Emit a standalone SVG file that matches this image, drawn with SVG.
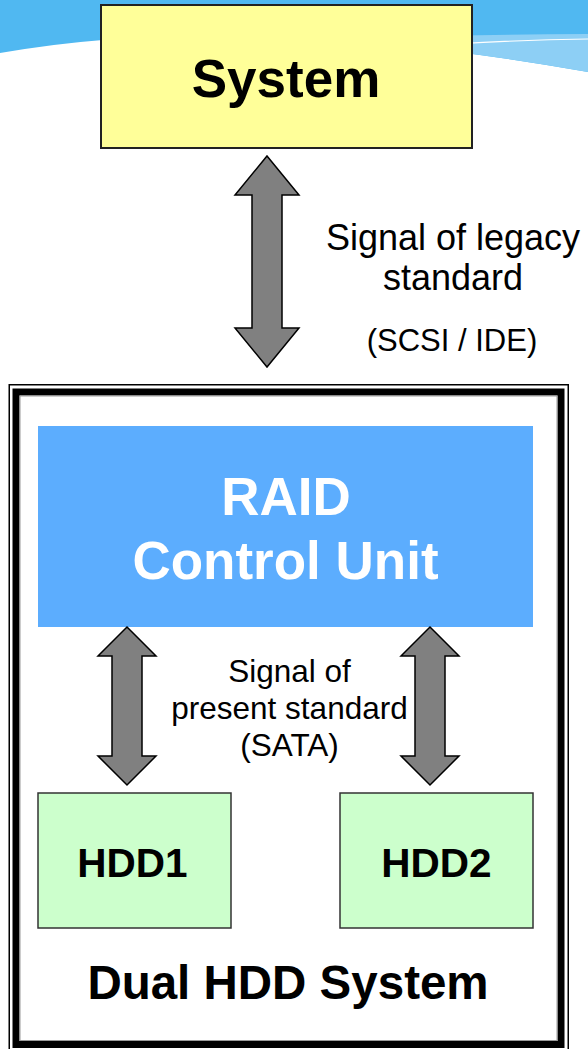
<svg xmlns="http://www.w3.org/2000/svg" width="588" height="1049" viewBox="0 0 588 1049">
  <style>
    .bold { font-family: "Liberation Sans", Arial, sans-serif; font-weight: bold; text-anchor: middle; }
    .label { font-family: "Liberation Sans", Arial, sans-serif; text-anchor: middle; fill: #000; }
    .arrow { fill: #808080; stroke: #000; stroke-width: 1.5; stroke-linejoin: miter; }
    .hdd { fill: #ccffcc; stroke: #333; stroke-width: 1.5; }
  </style>
  <defs>
    <!-- short double-headed arrow between the controller and a drive -->
    <polygon id="sata-arrow" points="0,627 29,656 15,656 15,756 29,756 0,785 -29,756 -15,756 -15,656 -29,656"/>
  </defs>

  <!-- page background with the swoosh at the top -->
  <g id="background">
    <rect x="0" y="0" width="588" height="1049" fill="#ffffff"/>
    <path d="M0,0 H588 V72 Q240,10 0,53 Z" fill="#50b8f1"/>
    <path d="M326.9,39.2 Q448.8,47.2 588,72 V34 Q450,35 326.9,39.2 Z" fill="#8dcff5"/>
    <path d="M400,48 Q500,40 588,39" fill="none" stroke="#ffffff" stroke-width="1.2"/>
  </g>

  <g id="system">
    <rect x="101" y="5" width="371" height="143" fill="#ffff99" stroke="#222" stroke-width="2"/>
    <text class="bold" x="286" y="97" font-size="53" fill="#000">System</text>
  </g>

  <g id="dual-hdd-system">
    <rect x="9.25" y="384.75" width="559" height="690" fill="none" stroke="#000" stroke-width="1.5"/>
    <rect x="16" y="392" width="545" height="652.5" fill="#ffffff" stroke="#000" stroke-width="7"/>
    <rect x="20" y="396" width="537" height="644.5" fill="none" stroke="#9a9a9a" stroke-width="1"/>
    <text class="bold" x="288" y="999" font-size="47.5" fill="#000">Dual HDD System</text>
  </g>

  <g id="raid-control-unit">
    <rect x="38" y="426" width="495" height="201" fill="#5cadfe"/>
    <text class="bold" x="286" y="515" font-size="53" fill="#ffffff">RAID</text>
    <text class="bold" x="285.5" y="579" font-size="53" fill="#ffffff">Control Unit</text>
  </g>

  <g id="hdd1">
    <rect class="hdd" x="38" y="793" width="193" height="135"/>
    <text class="bold" x="132.5" y="877" font-size="40.5" fill="#000">HDD1</text>
  </g>

  <g id="hdd2">
    <rect class="hdd" x="340" y="793" width="193" height="135"/>
    <text class="bold" x="436.5" y="877" font-size="40.5" fill="#000">HDD2</text>
  </g>

  <g id="connectors">
    <polygon class="arrow" points="267,156 299,195 282,195 282,328 299,328 267,367 235,328 252,328 252,195 235,195"/>
    <use href="#sata-arrow" class="arrow" x="127"/>
    <use href="#sata-arrow" class="arrow" x="430"/>
  </g>

  <g id="connector-labels">
    <text class="label" x="453" y="250" font-size="36">Signal of legacy</text>
    <text class="label" x="453" y="290" font-size="36">standard</text>
    <text class="label" x="452" y="351" font-size="31">(SCSI / IDE)</text>
    <text class="label" x="289.5" y="682" font-size="31.5">Signal of</text>
    <text class="label" x="289.5" y="719" font-size="31.5">present standard</text>
    <text class="label" x="289.5" y="756" font-size="31.5">(SATA)</text>
  </g>
</svg>
